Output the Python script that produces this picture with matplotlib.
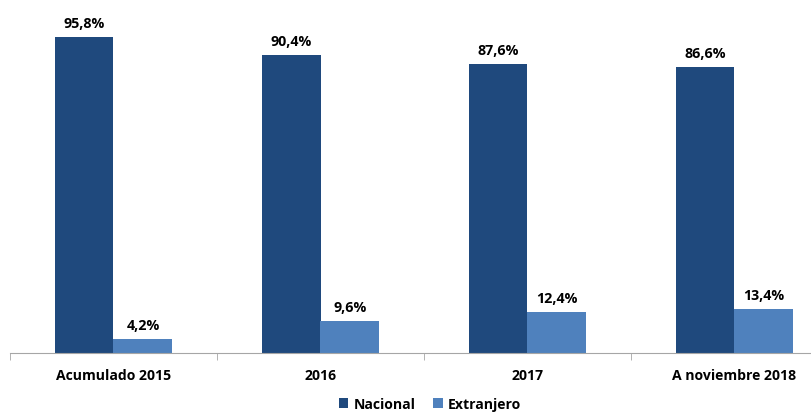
import numpy as np
import matplotlib.pyplot as plt

categories = ["Acumulado 2015", "2016", "2017", "A noviembre 2018"]
nacional = [95.8, 90.4, 87.6, 86.6]
extranjero = [4.2, 9.6, 12.4, 13.4]

c_nac = "#1F497D"
c_ext = "#4F81BD"

plt.rcParams["font.family"] = ["Open Sans", "DejaVu Sans"]

fig = plt.figure(figsize=(8.12, 4.14), dpi=100)
ax = fig.add_axes([10 / 812, 60 / 414, 828 / 812, 354 / 414])

x = np.arange(len(categories))
w = 0.285
b1 = ax.bar(x - w / 2, nacional, w, color=c_nac, label="Nacional")
b2 = ax.bar(x + w / 2, extranjero, w, color=c_ext, label="Extranjero")

def fmt(v):
    return f"{v:.1f}%".replace(".", ",")

for bars, vals in ((b1, nacional), (b2, extranjero)):
    for r, v in zip(bars, vals):
        ax.annotate(fmt(v), (r.get_x() + r.get_width() / 2, v),
                    xytext=(0, 5), textcoords="offset points",
                    ha="center", va="bottom", fontsize=10.3, fontweight="bold")

ax.set_xlim(-0.5, len(categories) - 0.5)
ax.set_ylim(0, 107.3)
ax.set_yticks([])
for s in ("top", "right", "left"):
    ax.spines[s].set_visible(False)
ax.spines["bottom"].set_color("#A6A6A6")

ax.set_xticks(x)
ax.set_xticklabels(categories, fontsize=10.1, fontweight="bold")
ax.tick_params(axis="x", length=0, pad=11)
ax.set_xticks(np.arange(-0.5, len(categories)), minor=True)
ax.tick_params(axis="x", which="minor", length=5, color="#A6A6A6", direction="out")

fig.legend(handles=[b1, b2], loc="center", bbox_to_anchor=(430 / 812, 1 - 405 / 414),
           ncol=2, frameon=False, handlelength=0.7, handleheight=0.7,
           handletextpad=0.4, columnspacing=1.2,
           prop={"size": 10.1, "weight": "bold"})

fig.savefig("out.png", dpi=100)
